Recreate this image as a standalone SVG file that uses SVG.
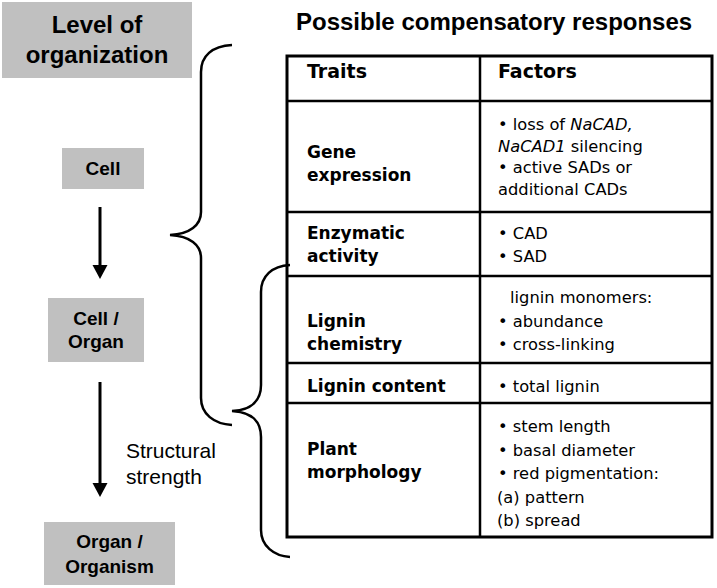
<svg xmlns="http://www.w3.org/2000/svg" width="717" height="588" viewBox="0 0 717 588">
<style>
.box{fill:#c0c0c0}
.lbl{font-family:"Liberation Sans",Arial,sans-serif;font-weight:bold;fill:#000;text-anchor:middle}
.hd{font-family:"DejaVu Sans",Verdana,sans-serif;font-weight:bold;font-size:19px;fill:#000}
.tr{font-family:"DejaVu Sans",Verdana,sans-serif;font-weight:bold;font-size:17px;fill:#000}
.fc{font-family:"DejaVu Sans",Verdana,sans-serif;font-size:16.3px;fill:#000}
.brace{fill:none;stroke:#000;stroke-width:2.5}
.grid{fill:none;stroke:#000;stroke-width:2.5}
.arr{stroke:#000;stroke-width:3}
.head{fill:#000}
</style>
<rect width="717" height="588" fill="#fff"/>

<g id="level-of-organization">
<rect class="box" x="2" y="2" width="190" height="76"/>
<text class="lbl" font-size="24" x="97" y="33">Level of</text>
<text class="lbl" font-size="24" x="97" y="63">organization</text>
</g>

<g id="cell">
<rect class="box" x="62" y="148" width="82" height="41"/>
<text class="lbl" font-size="19" x="103" y="175">Cell</text>
</g>

<g id="cell-organ">
<rect class="box" x="48" y="298" width="96" height="64"/>
<text class="lbl" font-size="19" x="96" y="325">Cell /</text>
<text class="lbl" font-size="19" x="96" y="348">Organ</text>
</g>

<g id="organ-organism">
<rect class="box" x="44" y="522" width="131" height="63"/>
<text class="lbl" font-size="19" x="109.5" y="548">Organ /</text>
<text class="lbl" font-size="19" x="109.5" y="573">Organism</text>
</g>

<g id="title">
<text font-family="Liberation Sans,Arial,sans-serif" font-weight="bold" font-size="24" x="296" y="30">Possible compensatory responses</text>
</g>

<g id="structural-strength">
<text font-family="Liberation Sans,Arial,sans-serif" font-size="21" x="126" y="458">Structural</text>
<text font-family="Liberation Sans,Arial,sans-serif" font-size="21" x="126" y="484">strength</text>
</g>

<g id="connectors">
<line class="arr" x1="100" y1="207" x2="100" y2="266"/>
<path class="head" d="M92.5,265 L107.5,265 L100,279 Z"/>
<line class="arr" x1="100" y1="382" x2="100" y2="484"/>
<path class="head" d="M92.5,483 L107.5,483 L100,497 Z"/>
<path class="brace" d="M232,45 C212,46 201,56 201,72 L201,212 C201,225 190,234 170,235 C190,236 201,245 201,258 L201,398 C201,414 214,424 232,425"/>
<path class="brace" d="M290,265 C272,266 261,276 261,292 L261,385 C261,400 252,410 232,411 C252,412 261,422 261,437 L261,530 C261,546 274,556 290,557"/>
</g>

<g id="table">
<rect x="287" y="56" width="425" height="481" fill="none" stroke="#000" stroke-width="3"/>
<line class="grid" x1="480" y1="56" x2="480" y2="537"/>
<line class="grid" x1="287" y1="101" x2="712" y2="101"/>
<line class="grid" x1="287" y1="212" x2="712" y2="212"/>
<line class="grid" x1="287" y1="276" x2="712" y2="276"/>
<line class="grid" x1="287" y1="363" x2="712" y2="363"/>
<line class="grid" x1="287" y1="403" x2="712" y2="403"/>
</g>

<g id="header">
<text class="hd" x="307" y="78">Traits</text>
<text class="hd" x="498" y="78">Factors</text>
</g>

<g id="row-gene-expression">
<text class="tr" x="307" y="158">Gene</text>
<text class="tr" x="307" y="181">expression</text>
<text class="fc" x="498" y="130">• loss of <tspan font-style="italic">NaCAD,</tspan></text>
<text class="fc" x="498" y="152"><tspan font-style="italic">NaCAD1</tspan> silencing</text>
<text class="fc" x="498" y="173">• active SADs or</text>
<text class="fc" x="498" y="195">additional CADs</text>
</g>

<g id="row-enzymatic-activity">
<text class="tr" x="307" y="239">Enzymatic</text>
<text class="tr" x="307" y="262">activity</text>
<text class="fc" x="498" y="239">• CAD</text>
<text class="fc" x="498" y="262">• SAD</text>
</g>

<g id="row-lignin-chemistry">
<text class="tr" x="307" y="327">Lignin</text>
<text class="tr" x="307" y="350">chemistry</text>
<text class="fc" x="510" y="303">lignin monomers:</text>
<text class="fc" x="498" y="327">• abundance</text>
<text class="fc" x="498" y="350">• cross-linking</text>
</g>

<g id="row-lignin-content">
<text class="tr" x="307" y="392">Lignin content</text>
<text class="fc" x="498" y="392">• total lignin</text>
</g>

<g id="row-plant-morphology">
<text class="tr" x="307" y="455">Plant</text>
<text class="tr" x="307" y="478">morphology</text>
<text class="fc" x="498" y="432">• stem length</text>
<text class="fc" x="498" y="456">• basal diameter</text>
<text class="fc" x="498" y="479">• red pigmentation:</text>
<text class="fc" x="497" y="503">(a) pattern</text>
<text class="fc" x="497" y="526">(b) spread</text>
</g>
</svg>
